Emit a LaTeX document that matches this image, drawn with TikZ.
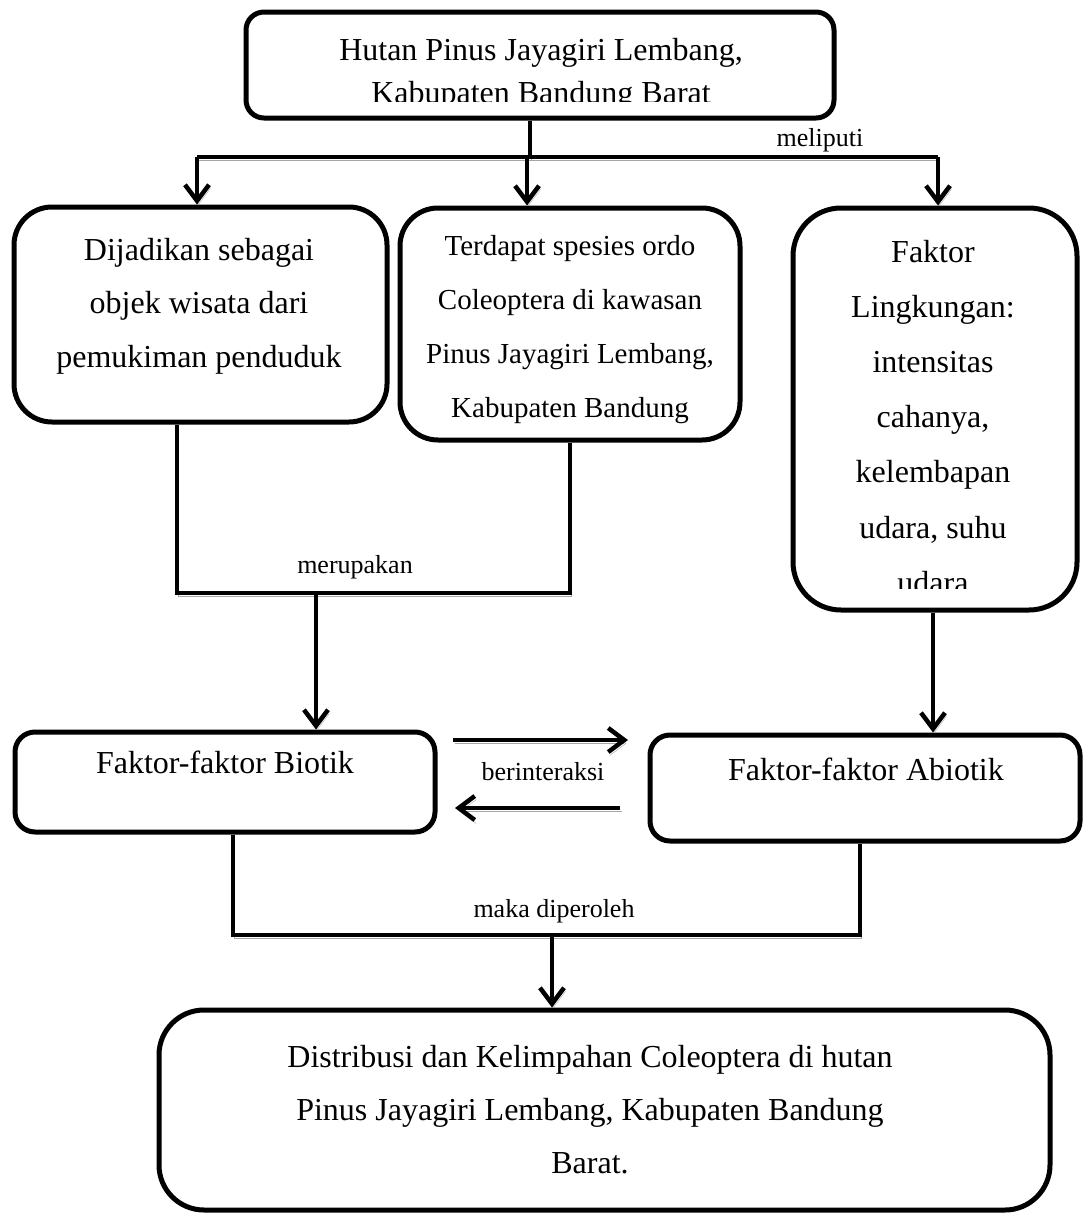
\documentclass[tikz,border=0pt]{standalone}
\usepackage{fontspec}
\setmainfont{Liberation Serif}
\usetikzlibrary{arrows.meta}
\begin{document}
\begin{tikzpicture}[x=1pt,y=-1pt,
  box/.style={draw=black, line width=5pt, rounded corners=#1, inner sep=0pt},
  box/.default=20pt,
  txt/.style={inner sep=0pt, anchor=base},
  big/.style={font=\fontsize{32}{#1}\selectfont},
  mid/.style={font=\fontsize{29}{#1}\selectfont},
  lbl/.style={inner sep=0pt, anchor=base, font=\fontsize{26}{30}\selectfont},
  conn/.style={line width=4.5pt, preaction={draw=black!35, transform canvas={shift={(1.5pt,-3.5pt)}}}},
  arr/.style={conn, -{Straight Barb[length=16pt,width=24pt]}}
]
\fill[white] (0,0) rectangle (1082,1213);
\useasboundingbox (0,0) rectangle (1082,1213);

% boxes
\node[box=18pt, minimum width=588pt, minimum height=106pt] (top) at (540,65) {};
\node[box=38pt, minimum width=373pt, minimum height=215pt] (left) at (200.5,314.5) {};
\node[box=38pt, minimum width=340pt, minimum height=232pt] (midb) at (570,324) {};
\node[box=48pt, minimum width=284pt, minimum height=402pt] (right) at (935,409) {};
\node[box=20pt, minimum width=420pt, minimum height=100pt] (bio) at (225,782) {};
\node[box=20pt, minimum width=430pt, minimum height=106pt] (abio) at (865,788) {};
\node[box=45pt, minimum width=891pt, minimum height=200pt] (bottom) at (604.5,1110) {};

% texts
\begin{scope}
\clip (246,12) rectangle (834,101);
\node[txt, big=43] (topT) at (541,60) {\begin{tabular}[t]{@{}c@{}}Hutan Pinus Jayagiri Lembang,\\Kabupaten Bandung Barat\end{tabular}};
\end{scope}
\node[txt, big=53.5] (leftT) at (199,260) {\begin{tabular}[t]{@{}c@{}}Dijadikan sebagai\\objek wisata dari\\pemukiman penduduk\end{tabular}};
\node[txt, mid=54] (midT) at (570,255) {\begin{tabular}[t]{@{}c@{}}Terdapat spesies ordo\\Coleoptera di kawasan\\Pinus Jayagiri Lembang,\\Kabupaten Bandung\end{tabular}};
\begin{scope}
\clip (793,208) rectangle (1077,588);
\node[txt, big=55.2] (rightT) at (933,262) {\begin{tabular}[t]{@{}c@{}}Faktor\\Lingkungan:\\intensitas\\cahanya,\\kelembapan\\udara, suhu\\udara\end{tabular}};
\end{scope}
\node[txt, big=40] (bioT) at (225,773) {Faktor-faktor Biotik};
\node[txt, big=40] (abioT) at (866,780) {Faktor-faktor Abiotik};
\node[txt, big=53] (botT) at (590,1067) {\begin{tabular}[t]{@{}c@{}}Distribusi dan Kelimpahan Coleoptera di hutan\\Pinus Jayagiri Lembang, Kabupaten Bandung\\Barat.\end{tabular}};

% labels
\node[lbl] (l1) at (820,146) {meliputi};
\node[lbl] (l2) at (355,573) {merupakan};
\node[lbl] (l3) at (543,780) {berinteraksi};
\node[lbl] (l4) at (554,917) {maka diperoleh};

% connectors: top fan-out
\coordinate (j0) at (530,157);
\coordinate (a1) at (197,157);
\coordinate (a2) at (527,157);
\coordinate (a3) at (938,157);
\draw[conn] (top.south -| j0) -- (j0);
\draw[conn] (a1) -- (a3);
\draw[arr] (a1) -- (a1 |- left.north);
\draw[arr] (a2) -- (a2 |- midb.north);
\draw[arr] (a3) -- (a3 |- right.north);

% merupakan
\coordinate (m1) at (177,593);
\coordinate (m2) at (570,593);
\coordinate (m3) at (316,593);
\draw[conn] (left.south -| m1) -- (m1) -- (m2) -- (midb.south -| m2);
\draw[arr] (m3) -- (m3 |- bio.north);

% right to abiotik
\coordinate (r1) at (933,612);
\draw[arr] (right.south -| r1) -- (r1 |- abio.north);

% berinteraksi
\coordinate (i1) at (453,740);
\coordinate (i2) at (628,740);
\coordinate (i3) at (620,808);
\coordinate (i4) at (455,808);
\draw[arr] (i1) -- (i2);
\draw[arr] (i3) -- (i4);

% maka diperoleh
\coordinate (k1) at (233,935);
\coordinate (k2) at (860,935);
\coordinate (k3) at (552,935);
\draw[conn] (bio.south -| k1) -- (k1) -- (k2) -- (abio.south -| k2);
\draw[arr] (k3) -- (k3 |- bottom.north);
\end{tikzpicture}
\end{document}
